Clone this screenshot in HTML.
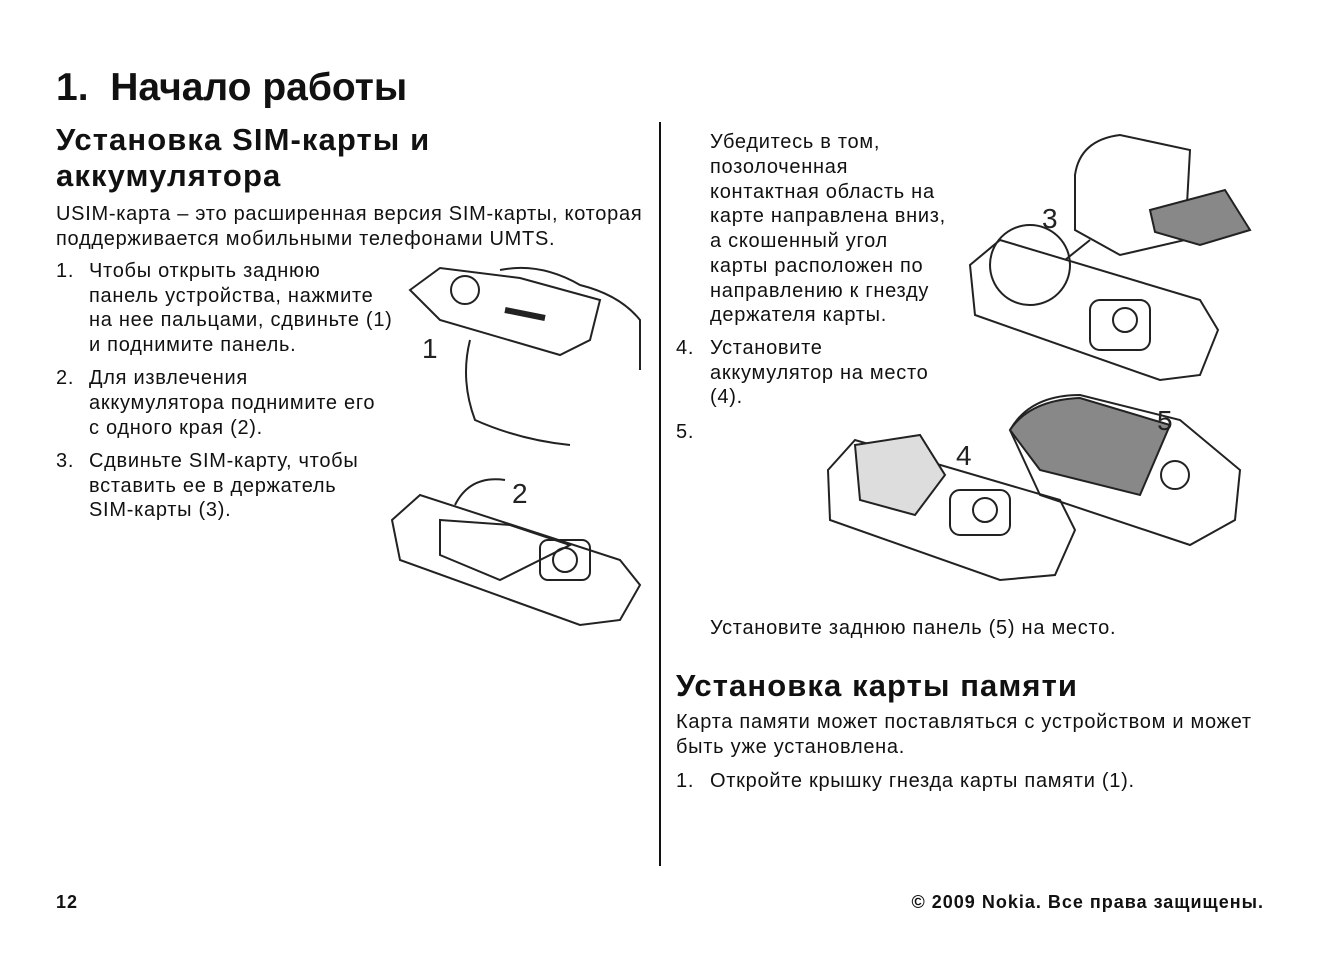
<!DOCTYPE html>
<html><head><meta charset="utf-8">
<style>
html,body{margin:0;padding:0;background:#fff;}
body{width:1322px;height:955px;position:relative;overflow:hidden;font-family:"Liberation Sans","DejaVu Sans",sans-serif;color:#111;}
.t{position:absolute;white-space:nowrap;font-size:20px;line-height:24px;letter-spacing:0.72px;}
.h1{position:absolute;font-size:39px;font-weight:bold;white-space:nowrap;line-height:44px;}
.h2{position:absolute;font-size:31px;font-weight:bold;white-space:nowrap;line-height:36px;letter-spacing:1.1px;}
.b{font-weight:bold;}
svg{position:absolute;left:0;top:0;}
</style></head><body>
<div class="h1" style="left:56px;top:66px;">1.&nbsp;&nbsp;Начало работы</div>
<div class="h2" style="left:56px;top:122px;">Установка SIM-карты и</div>
<div class="h2" style="left:56px;top:158px;">аккумулятора</div>
<div class="t" style="left:56px;top:202px;">USIM-карта – это расширенная версия SIM-карты, которая</div>
<div class="t" style="left:56px;top:227px;">поддерживается мобильными телефонами UMTS.</div>

<div class="t" style="left:56px;top:259px;">1.</div>
<div class="t" style="left:89px;top:259px;">Чтобы открыть заднюю</div>
<div class="t" style="left:89px;top:284px;">панель устройства, нажмите</div>
<div class="t" style="left:89px;top:308px;">на нее пальцами, сдвиньте (1)</div>
<div class="t" style="left:89px;top:333px;">и поднимите панель.</div>
<div class="t" style="left:56px;top:366px;">2.</div>
<div class="t" style="left:89px;top:366px;">Для извлечения</div>
<div class="t" style="left:89px;top:391px;">аккумулятора поднимите его</div>
<div class="t" style="left:89px;top:416px;">с одного края (2).</div>
<div class="t" style="left:56px;top:449px;">3.</div>
<div class="t" style="left:89px;top:449px;">Сдвиньте SIM-карту, чтобы</div>
<div class="t" style="left:89px;top:474px;">вставить ее в держатель</div>
<div class="t" style="left:89px;top:498px;">SIM-карты (3).</div>

<div style="position:absolute;left:659px;top:122px;width:2px;height:744px;background:#111;"></div>

<div class="t" style="left:710px;top:130px;">Убедитесь в том,</div>
<div class="t" style="left:710px;top:155px;">позолоченная</div>
<div class="t" style="left:710px;top:180px;">контактная область на</div>
<div class="t" style="left:710px;top:204px;">карте направлена вниз,</div>
<div class="t" style="left:710px;top:229px;">а скошенный угол</div>
<div class="t" style="left:710px;top:254px;">карты расположен по</div>
<div class="t" style="left:710px;top:279px;">направлению к гнезду</div>
<div class="t" style="left:710px;top:303px;">держателя карты.</div>
<div class="t" style="left:676px;top:336px;">4.</div>
<div class="t" style="left:710px;top:336px;">Установите</div>
<div class="t" style="left:710px;top:361px;">аккумулятор на место</div>
<div class="t" style="left:710px;top:385px;">(4).</div>
<div class="t" style="left:676px;top:420px;">5.</div>
<div class="t" style="left:710px;top:616px;">Установите заднюю панель (5) на место.</div>
<div class="h2" style="left:676px;top:668px;">Установка карты памяти</div>
<div class="t" style="left:676px;top:710px;">Карта памяти может поставляться с устройством и может</div>
<div class="t" style="left:676px;top:735px;">быть уже установлена.</div>
<div class="t" style="left:676px;top:769px;">1.</div>
<div class="t" style="left:710px;top:769px;">Откройте крышку гнезда карты памяти (1).</div>

<div class="t b" style="left:56px;top:890px;font-size:18px;letter-spacing:1px;">12</div>
<div class="t b" style="right:58px;top:890px;font-size:18px;letter-spacing:1px;">© 2009 Nokia. Все права защищены.</div>

<svg width="1322" height="955" fill="none" stroke="#222" stroke-width="2">
 <path d="M410 290 L440 268 L520 278 L600 300 L590 340 L560 355 L440 320 Z"/>
 <circle cx="465" cy="290" r="14"/>
 <path d="M500 270 Q540 262 580 285 Q620 295 640 320 L640 370 M470 340 Q460 380 475 420 Q520 440 570 445"/>
 <path d="M505 310 L545 318" stroke-width="6"/>
 <text x="422" y="358" font-family="Liberation Sans" font-size="28" fill="#222" stroke="none">1</text>
 <path d="M392 520 L420 495 L620 560 L640 585 L620 620 L580 625 L400 560 Z"/>
 <path d="M440 520 L510 525 L570 545 L500 580 L440 555 Z"/>
 <rect x="540" y="540" width="50" height="40" rx="8"/>
 <circle cx="565" cy="560" r="12"/>
 <path d="M455 505 Q470 475 505 480" />
 <text x="512" y="503" font-family="Liberation Sans" font-size="28" fill="#222" stroke="none">2</text>
 <path d="M970 265 L1000 240 L1200 300 L1218 330 L1200 375 L1160 380 L975 315 Z"/>
 <rect x="1090" y="300" width="60" height="50" rx="10"/>
 <circle cx="1125" cy="320" r="12"/>
 <circle cx="1030" cy="265" r="40"/>
 <path d="M1075 175 Q1080 140 1120 135 L1190 150 L1185 240 L1120 255 L1075 230 Z"/>
 <path d="M1150 210 L1225 190 L1250 230 L1200 245 L1155 232 Z" fill="#888"/>
 <path d="M1065 260 L1090 240"/>
 <text x="1042" y="228" font-family="Liberation Sans" font-size="28" fill="#222" stroke="none">3</text>
 <path d="M828 470 L855 440 L1060 500 L1075 530 L1055 575 L1000 580 L830 520 Z"/>
 <path d="M855 445 L920 435 L945 475 L915 515 L860 500 Z" fill="#ddd"/>
 <rect x="950" y="490" width="60" height="45" rx="10"/>
 <circle cx="985" cy="510" r="12"/>
 <text x="956" y="465" font-family="Liberation Sans" font-size="28" fill="#222" stroke="none">4</text>
 <path d="M1010 430 Q1030 395 1080 395 L1180 420 L1240 470 L1235 520 L1190 545 L1040 495 Z"/>
 <path d="M1010 430 Q1030 400 1080 398 L1170 425 L1140 495 L1040 470 Z" fill="#888"/>
 <circle cx="1175" cy="475" r="14"/>
 <text x="1157" y="430" font-family="Liberation Sans" font-size="28" fill="#222" stroke="none">5</text>
</svg>
</body></html>
